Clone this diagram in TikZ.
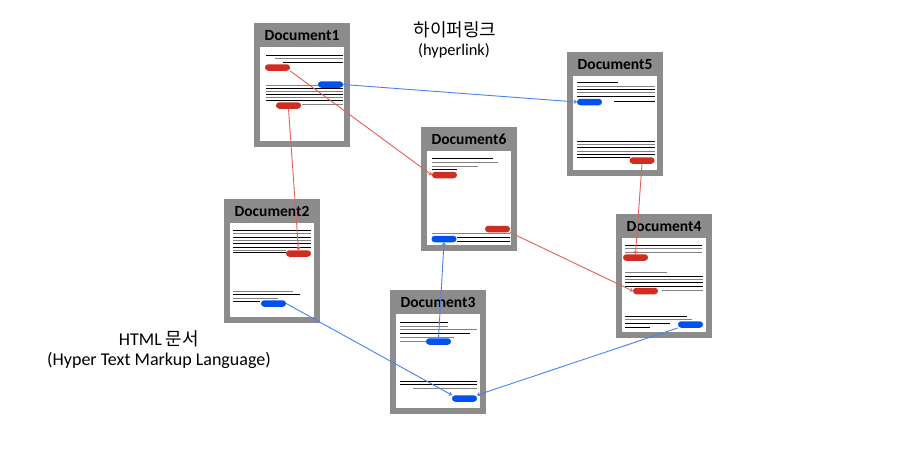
\documentclass[tikz,border=0pt]{standalone}
\usepackage{fontspec}
\setmainfont{Carlito}
\newfontfamily\kr{Noto Sans CJK KR}
\usetikzlibrary{arrows.meta}
\definecolor{framegray}{RGB}{140,140,140}
\definecolor{pillred}{RGB}{208,44,32}
\definecolor{pillblue}{RGB}{0,82,240}
\definecolor{linkred}{RGB}{226,96,88}
\definecolor{linkblue}{RGB}{74,128,240}
\definecolor{txtgray}{RGB}{130,130,130}
\tikzset{
  docframe/.style={draw=framegray, line width=6pt, fill=white, minimum width=90pt, minimum height=118pt, inner sep=0pt},
  dochead/.style={fill=framegray, minimum width=90pt, minimum height=24pt, inner sep=0pt, anchor=north,
     font=\fontsize{15.5}{18}\selectfont\bfseries, text=black},
  pill/.style={rectangle, rounded corners=3.2pt, minimum width=25pt, minimum height=6.5pt, inner sep=0pt},
  redpill/.style={pill, fill=pillred},
  bluepill/.style={pill, fill=pillblue},
  txtline/.style={line width=0.8pt},
  redlink/.style={draw=linkred, line width=0.9pt, -{To[length=3pt,width=4pt]}},
  bluelink/.style={draw=linkblue, line width=0.9pt, -{To[length=3pt,width=4pt]}},
  label/.style={inner sep=0pt, text=black}
}
\begin{document}
\begin{tikzpicture}[x=1pt,y=-1pt]
\useasboundingbox (0,0) rectangle (904,448);
% documents
\foreach \n/\cx/\cy/\t in {d1/302/85/Document1, d2/272/261/Document2, d3/438/352/Document3,
                            d4/664/276/Document4, d5/615/114/Document5, d6/469/189/Document6}{
  \node[docframe] (\n) at (\cx,\cy) {};
  \node[dochead] (\n h) at (\n.north) {\t};
}
% text lines
\foreach \xa/\xb/\yy/\cc in {
  % D1
  266/343/55/black, 275/343/58.5/txtgray, 283/343/62/black,
  307/343/85/txtgray, 266/307/85/txtgray, 266/343/88/black, 266/343/91/txtgray, 266/343/94/black, 266/343/97/txtgray, 266/343/100.5/black, 302/343/104.5/txtgray,
  % D6
  432/493/158.5/black, 432/498/162/txtgray, 432/478/166/txtgray, 432/457/169.5/black,
  432/510/233.5/txtgray, 457/510/237.5/black, 457/510/241/black,
  % D5
  577/618/82.5/black, 577/655/86/txtgray, 577/655/89.5/black, 577/655/92.5/txtgray, 577/655/96/black, 614/655/101/black,
  577/655/141/black, 577/655/144.5/txtgray, 577/655/147.5/black, 577/655/151/txtgray, 577/655/154.5/black, 577/630/157.5/black,
  % D2
  233/311/230/black, 233/311/233.5/txtgray, 233/311/237/black, 233/311/240/txtgray, 233/311/243.5/black, 233/311/247/black, 233/286/250/txtgray, 233/286/252.5/black,
  233/293/291/txtgray, 233/300/294.5/black, 233/278/298/txtgray, 233/260/301/black,
  % D3
  400/448/322.5/black, 400/448/326/txtgray, 400/477/329.5/txtgray, 400/470/333/black, 400/454/337/txtgray, 400/428/341/txtgray,
  400/477/381/black, 400/477/384.5/black, 413/477/388.5/txtgray,
  % D4
  625/702/245/black, 625/702/248.5/txtgray, 625/702/252.5/txtgray,
  625/667/272/txtgray, 625/703/276/black, 625/703/279/txtgray, 625/703/282.5/black, 625/703/286.5/black, 662/703/290/txtgray,
  625/687/316/black, 625/692/319.5/txtgray, 625/670/323/black, 625/650/327/black}{
  \draw[txtline, draw=\cc] (\xa,\yy) -- (\xb,\yy);
}
% link pills
\node[redpill]  (p1a) at (277.5,67.5) {};
\node[bluepill] (p1b) at (330.5,84.5) {};
\node[redpill]  (p1c) at (288.5,105.5) {};
\node[redpill]  (p6a) at (444.5,175) {};
\node[redpill]  (p6b) at (497.5,229) {};
\node[bluepill] (p6c) at (444,239) {};
\node[bluepill] (p5a) at (589.5,102) {};
\node[redpill]  (p5b) at (642,160.5) {};
\node[redpill]  (p2a) at (298.5,253.5) {};
\node[bluepill] (p2b) at (273.5,303.5) {};
\node[bluepill] (p3a) at (438.5,341.5) {};
\node[bluepill] (p3b) at (464.5,398.5) {};
\node[redpill]  (p4a) at (635.5,257.5) {};
\node[redpill]  (p4b) at (645.5,291) {};
\node[bluepill] (p4c) at (690.5,324.5) {};
% hyperlinks
\draw[redlink]  (p1a.south east) -- (p6a.west);
\draw[bluelink] (p1b.east) -- (p5a.west);
\draw[redlink]  (p1c.south) -- (p2a.north);
\draw[bluelink] (p2b.east) -- (p3b.north west);
\draw[bluelink] (p4c.south west) -- (p3b.north east);
\draw[bluelink] (p3a.north) -- (p6c.south);
\draw[redlink]  (p6b.south east) -- (p4b.west);
\draw[redlink]  (p5b.south) -- (p4a.north);
% labels
\node[label, font=\kr\fontsize{18}{20}\selectfont] (t1) at (455,30) {하이퍼링크};
\node[label, font=\fontsize{16.4}{18}\selectfont] (t2) at (454,51) {(hyperlink)};
\node[label, font=\fontsize{18}{20}\selectfont] (t3) at (159,339) {HTML {\kr 문서}};
\node[label, font=\fontsize{18}{20}\selectfont] (t4) at (159,360) {(Hyper Text Markup Language)};
\end{tikzpicture}
\end{document}
